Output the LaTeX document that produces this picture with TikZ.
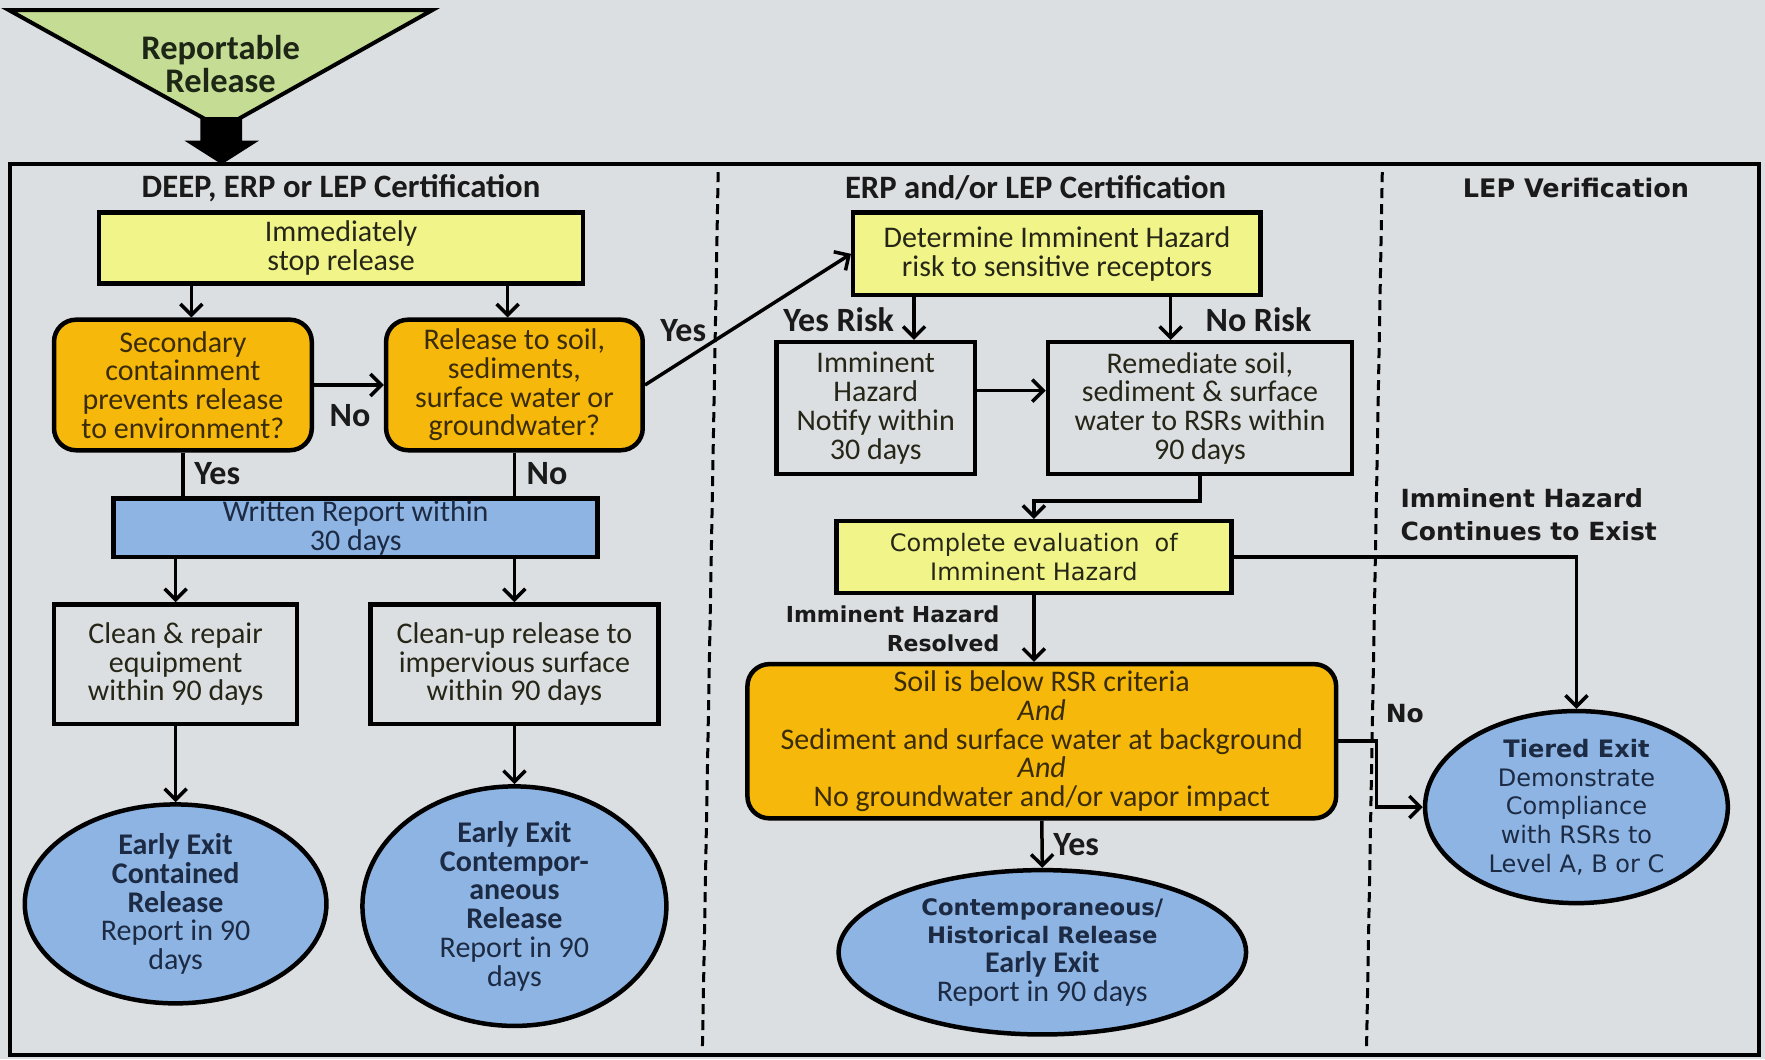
\documentclass[tikz,border=0pt]{standalone}
\usepackage{fontspec}
\setmainfont{Carlito}
\newfontfamily\vf{DejaVu Sans}
\usetikzlibrary{arrows.meta,shapes.geometric,calc}
\definecolor{bg}{HTML}{DCDFE2}
\definecolor{yel}{HTML}{F1F488}
\definecolor{org}{HTML}{F6B80A}
\definecolor{blu}{HTML}{8DB4E2}
\definecolor{grn}{HTML}{C4DC94}
\definecolor{otxt}{HTML}{3A2C08}
\definecolor{btxt}{HTML}{1C2A44}
\definecolor{ytxt}{HTML}{262618}
\definecolor{ltxt}{HTML}{1A1A1A}
\definecolor{gtxt}{HTML}{1E2616}
\begin{document}
\begin{tikzpicture}[x=1.1257pt,y=-1.1257pt,
  bx/.style 2 args={rectangle,minimum width={#1*1.1257pt},minimum height={#2*1.1257pt},inner sep=0pt,align=center,line width=4.5pt,draw=black},
  body/.style={font=\fontsize{30}{28.7}\selectfont},
  ybox/.style={fill=yel,text=ytxt,body},
  obox/.style={fill=org,text=otxt,rounded corners=22pt,body},
  wbox/.style={text=ytxt,body},
  el/.style 2 args={ellipse,minimum width={#1*1.1257pt},minimum height={#2*1.1257pt},inner sep=0pt,align=center,fill=blu,draw=black,line width=4.5pt,text=btxt,body},
  arr/.style={line width=3.5pt,-{Straight Barb[length=11pt,width=22pt,line width=3.5pt]}},
  ln/.style={line width=3.5pt},
  dsh/.style={line width=3pt,dash pattern=on 10pt off 6pt},
  lbl/.style={text=ltxt,font=\bfseries\fontsize{34}{36}\selectfont,inner sep=0pt},
  hdr/.style={text=ltxt,font=\bfseries\fontsize{32.7}{34}\selectfont,inner sep=0pt},
  vlbl/.style={text=ltxt,font=\vf\bfseries\fontsize{25}{33}\selectfont,inner sep=0pt}
]
% background
\fill[bg] (0,0) rectangle (1568,941);
\useasboundingbox (0,0) rectangle (1568,941);

% triangle and block arrow
\draw[fill=grn,line width=4pt,line join=miter] (8,9) -- (384,9) -- (197,114) -- cycle;
\node[text=gtxt,font=\bfseries\fontsize{34.5}{33}\selectfont,align=center,inner sep=0pt] (rr) at (196,57) {Reportable\\Release};
\fill[black] (178,104) -- (215,104) -- (215,125) -- (230,125) -- (197,146) -- (164,125) -- (178,125) -- cycle;

% frame and dividers
\draw[line width=4pt] (9,146) rectangle (1563,937);
\draw[dsh] (638,153) -- (624,932);
\draw[dsh] (1228,153) -- (1214,932);

% headers
\node[hdr] (h1) at (303,167) {DEEP, ERP or LEP Certification};
\node[hdr] (h2) at (920,167) {ERP and/or LEP Certification};
\node[vlbl,font=\vf\bfseries\fontsize{25.5}{26}\selectfont] (h3) at (1400,167) {LEP Verification};

% left column
\node[bx={430}{63},ybox] (stop) at (303,220.5) {Immediately\\stop release};
\node[bx={229}{116},obox] (sec) at (162.5,342) {Secondary\\containment\\prevents release\\to environment?};
\node[bx={228}{116},obox] (rel) at (457,342) {Release to soil,\\sediments,\\surface water or\\groundwater?};
\node[bx={430}{52},fill=blu,text=btxt,body] (wr) at (316,469) {Written Report within\\30 days};
\node[bx={216}{106},wbox] (clean) at (156,590) {Clean \& repair\\equipment\\within 90 days};
\node[bx={256}{106},wbox] (cup) at (457,590) {Clean-up release to\\impervious surface\\within 90 days};
\node[el={268}{167}] (e1) at (156,803) {\textbf{Early Exit}\\\textbf{Contained}\\\textbf{Release}\\Report in 90\\days};
\node[el={270}{175}] (e2) at (457,805) {\textbf{Early Exit}\\\textbf{Contempor-}\\\textbf{aneous}\\\textbf{Release}\\Report in 90\\days};

% middle column
\node[bx={362}{73},ybox] (det) at (939,225.5) {Determine Imminent Hazard\\risk to sensitive receptors};
\node[bx={176}{117},wbox] (ih) at (778,362.5) {Imminent\\Hazard\\Notify within\\30 days};
\node[bx={270}{117},wbox] (rem) at (1066,362.5) {Remediate soil,\\sediment \& surface\\water to RSRs within\\90 days};
\node[bx={351}{64},ybox,font=\vf\fontsize{24}{28.7}\selectfont] (ce) at (918.5,495) {Complete evaluation~ of\\Imminent Hazard};
\node[bx={523}{137},obox] (soil) at (925.5,658.5) {Soil is below RSR criteria\\\textit{And}\\Sediment and surface water at background\\\textit{And}\\No groundwater and/or vapor impact};
\node[el={362}{146}] (e3) at (926,846) {{\vf\bfseries\fontsize{22.7}{28.7}\selectfont Contemporaneous/}\\{\vf\bfseries\fontsize{22.7}{28.7}\selectfont Historical Release}\\\textbf{Early Exit}\\Report in 90 days};

% right column
\node[el={269}{170},font=\vf\fontsize{24}{28.7}\selectfont] (e4) at (1400.5,717) {\textbf{Tiered Exit}\\Demonstrate\\Compliance\\with RSRs to\\Level A, B or C};

% helper coordinates
\coordinate (secin) at ($(sec.north)+(7.5,0)$);
\coordinate (relin) at ($(rel.north)+(-6,0)$);
\coordinate (ihin) at ($(ih.north)+(34,0)$);
\coordinate (remin) at ($(rem.north)+(-26,0)$);
\coordinate (ihout) at ($(ih.east)+(0,-15.5)$);

% connectors
\draw[arr] (secin |- stop.south) -- (secin);
\draw[arr] (relin |- stop.south) -- (relin);
\draw[arr] (sec.east) -- (rel.west);
\draw[arr] (rel.east) -- (det.west);
\draw[ln] (sec.south) -- (sec.south |- wr.north);
\draw[ln] (rel.south) -- (rel.south |- wr.north);
\draw[arr] (clean.north |- wr.south) -- (clean.north);
\draw[arr] (cup.north |- wr.south) -- (cup.north);
\draw[arr] (clean.south) -- (e1.north);
\draw[arr] (cup.south) -- (e2.north);
\draw[arr] (ihin |- det.south) -- (ihin);
\draw[arr] (remin |- det.south) -- (remin);
\draw[arr] (ihout) -- (ihout -| rem.west);
\draw[arr] (rem.south) -- ++(0,22) -| (ce.north);
\draw[arr] (ce.east) -| (e4.north);
\draw[arr] (ce.south) -- (ce.south |- soil.north);
\draw[arr] (soil.east) -- ++(34,0) |- (e4.west);
\draw[arr] (soil.south) -- (e3.north);

% labels
\node[lbl] (lno1) at (311,369) {No};
\node[lbl] (lyes1) at (607,294) {Yes};
\node[lbl] (lyes2) at (193,421) {Yes};
\node[lbl] (lno2) at (486,421) {No};
\node[lbl] (lyr) at (745,284) {Yes Risk};
\node[lbl] (lnr) at (1118,284) {No Risk};
\node[lbl] (lyes3) at (956,750) {Yes};
\node[vlbl,anchor=west,align=left] (lcont) at (1244,457.5) {Imminent Hazard\\Continues to Exist};
\node[vlbl,anchor=east,align=right,font=\vf\bfseries\fontsize{22}{29}\selectfont] (lres) at (888,559) {Imminent Hazard\\Resolved};
\node[vlbl] (lno3) at (1248,634) {No};
\end{tikzpicture}
\end{document}
